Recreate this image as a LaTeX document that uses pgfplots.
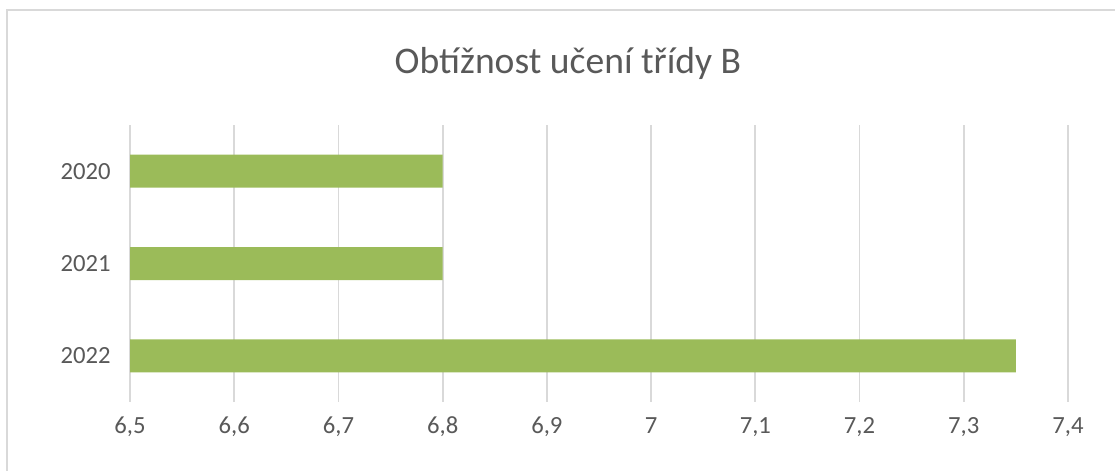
\documentclass[border=0pt]{standalone}
\usepackage{pgfplots}
\pgfplotsset{compat=1.18}
\usepackage{fontspec}
\setmainfont{Carlito}
\definecolor{barg}{HTML}{9BBB59}
\definecolor{txt}{HTML}{595959}
\definecolor{grd}{HTML}{D9D9D9}
\begin{document}
\begin{tikzpicture}
\path[use as bounding box] (0pt,0pt) rectangle (836.25pt,353.25pt);
\draw[grd, line width=1.5pt] (5.25pt,-4pt) -- (5.25pt,345.75pt) -- (840pt,345.75pt);
\node[txt, anchor=base, font=\fontsize{28.2}{32}\selectfont] at (426pt,297.75pt) {Obtížnost učení třídy B};
\begin{axis}[
  at={(97.5pt,51.75pt)}, anchor=south west,
  scale only axis, width=703.5pt, height=207.75pt,
  xbar, bar width=24.75pt,
  xmin=6.5, xmax=7.4, ymin=0.5, ymax=3.5,
  y dir=reverse,
  ytick={1,2,3}, yticklabels={2020,2021,2022},
  xtick={6.5,6.6,6.7,6.8,6.9,7,7.1,7.2,7.3,7.4},
  xticklabels={6{,}5,6{,}6,6{,}7,6{,}8,6{,}9,7,7{,}1,7{,}2,7{,}3,7{,}4},
  xmajorgrids, major grid style={grd, line width=1.4pt},
  axis line style={draw=none}, major tick length=0pt,
  tick label style={txt, font=\fontsize{18.5}{22}\selectfont},
  xticklabel style={anchor=base, inner sep=0pt, yshift=-23.25pt},
  yticklabel style={anchor=east, inner sep=0pt, xshift=-14.25pt},
]
\addplot[draw=none, fill=barg] coordinates {(6.8,1) (6.8,2) (7.35,3)};
\end{axis}
\end{tikzpicture}
\end{document}
